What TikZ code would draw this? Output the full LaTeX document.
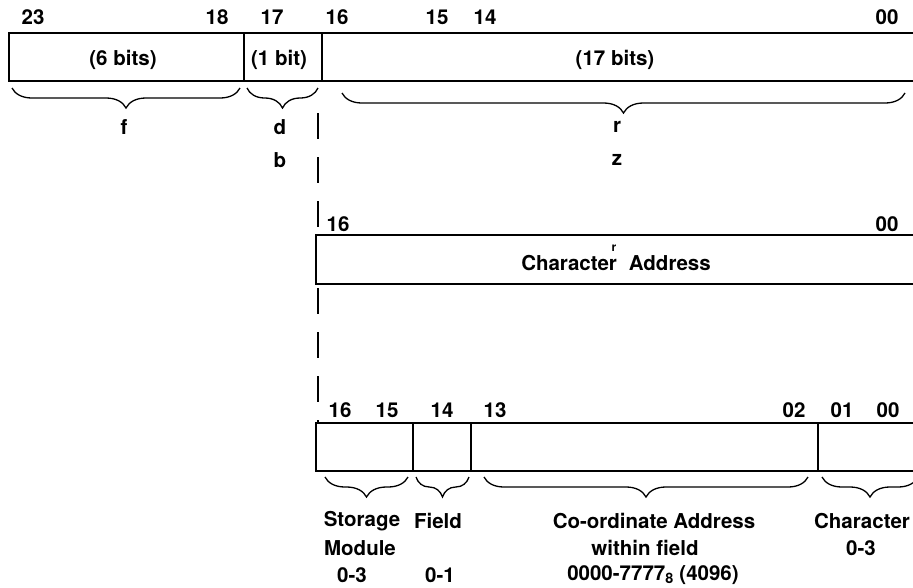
\documentclass[tikz,border=0pt]{standalone}
\usepackage{fontspec}
\setmainfont{TeX Gyre Heros}
\usetikzlibrary{decorations.pathreplacing}

\begin{document}
\begin{tikzpicture}[x=1pt, y=-1pt,
    every node/.style={font=\fontsize{20.5}{24}\selectfont\bfseries, inner sep=0pt},
    regbox/.style={draw, line width=2.4pt},
    divider/.style={draw, line width=1.8pt},
    brc/.style={draw, line width=1.3pt, decorate, decoration={brace, amplitude=20pt, mirror}},
    guide/.style={draw, line width=1.6pt, dash pattern=on 26pt off 18pt}]
  \useasboundingbox (0,0) rectangle (913,587);
  % Instruction word
  \draw[regbox] (9,33) rectangle (935,81);
  \draw[divider] (244,33) -- (244,81);
  \draw[divider] (322,33) -- (322,81);
  \foreach \n/\x in {23/33, 18/217, 17/272, 16/337, 15/437, 14/485, 00/887}
    \node (w\n) at (\x,17) {\n};
  \node (fbits) at (123,60) {(6 bits)};
  \node (dbits) at (279,60) {(1 bit)};
  \node (rbits) at (615,60) {(17 bits)};
  \coordinate (fa) at (12,88);  \coordinate (fb) at (240,88);
  \coordinate (da) at (247,88); \coordinate (db) at (318,88);
  \coordinate (ra) at (342,93); \coordinate (rb) at (905,93);
  \draw[brc] (fa) -- (fb);
  \draw[brc] (da) -- (db);
  \draw[brc] (ra) -- (rb);
  \node (f) at (124,127) {f};
  \node (d) at (280,127) {d};
  \node (b) at (280,160) {b};
  \node (r) at (617,127) {r};
  \node (z) at (617,160) {z};
  % Character address
  \draw[regbox] (316,235) rectangle (935,284);
  \node (c16) at (338,224) {16};
  \node (c00) at (887,224) {00};
  \node (chadr) at (616,263) {Character\hspace{12pt}Address};
  \node[font=\fontsize{12}{13}\selectfont\bfseries] (chr) at (614,248) {r};
  % Storage breakdown
  \draw[regbox] (316,423) rectangle (935,471);
  \draw[divider] (413,423) -- (413,471);
  \draw[divider] (471,423) -- (471,471);
  \draw[divider] (818,423) -- (818,471);
  \foreach \n/\x in {16/340, 15/387, 14/442, 13/495, 02/794, 01/842, 00/888}
    \node (s\n) at (\x,410) {\n};
  \coordinate (sa) at (325,477); \coordinate (sb) at (408,477);
  \coordinate (fa2) at (416,477); \coordinate (fb2) at (469,477);
  \coordinate (ca) at (484,477); \coordinate (cb) at (808,477);
  \coordinate (ka) at (822,477); \coordinate (kb) at (918,477);
  \draw[brc] (sa) -- (sb);
  \draw[brc] (fa2) -- (fb2);
  \draw[brc] (ca) -- (cb);
  \draw[brc] (ka) -- (kb);
  \node (stor) at (362,521) {Storage};
  \node (modl) at (360,548) {Module};
  \node (sr) at (352,575) {0-3};
  \node (fld) at (438,521) {Field};
  \node (fr) at (440,575) {0-1};
  \node (coord) at (654,521) {Co-ordinate Address};
  \node (within) at (645,548) {within field};
  \node (cr) at (653,575) {0000-7777\textsubscript{8} (4096)};
  \node (chtxt) at (862,521) {Character};
  \node (kr) at (861,548) {0-3};
  % Dashed guide
  \draw[guide] (318,113) -- (318,235);
  \draw[guide] (318,288) -- (318,423);
\end{tikzpicture}
\end{document}
